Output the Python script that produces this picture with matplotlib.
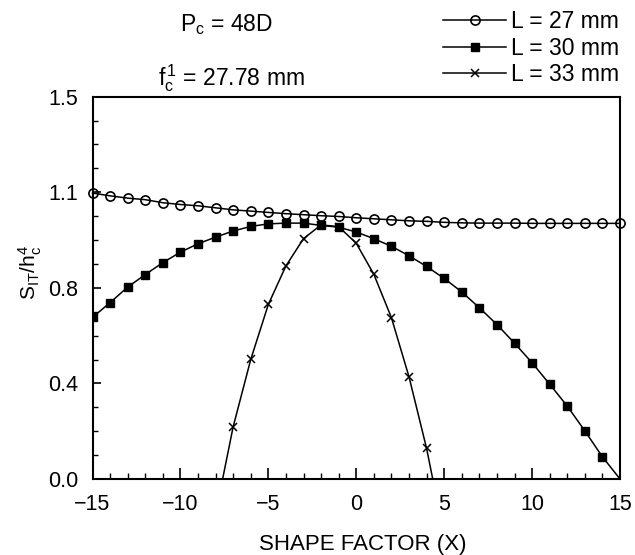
import matplotlib
matplotlib.use('Agg')
import matplotlib.pyplot as plt
from matplotlib.ticker import FixedLocator, MultipleLocator

plt.rcParams['font.family'] = ['Liberation Sans', 'DejaVu Sans']
plt.rcParams['mathtext.fontset'] = 'custom'
plt.rcParams['mathtext.rm'] = 'Liberation Sans'
plt.rcParams['mathtext.it'] = 'Liberation Sans'
plt.rcParams['font.size'] = 16

# ---- data ----
series_labels = ['L = 27 mm', 'L = 30 mm', 'L = 33 mm']

x27 = list(range(-15, 16))
y27 = [1.122, 1.111, 1.102, 1.096, 1.084, 1.077, 1.072, 1.064, 1.056, 1.051,
       1.046, 1.041, 1.037, 1.033, 1.030, 1.025, 1.021, 1.017, 1.013, 1.011,
       1.007, 1.005, 1.004, 1.004, 1.004, 1.003, 1.003, 1.003, 1.003, 1.003, 1.003]

x30 = list(range(-15, 16))
y30 = [0.634, 0.692, 0.753, 0.802, 0.849, 0.890, 0.923, 0.949, 0.973, 0.991,
       1.001, 1.004, 1.004, 0.995, 0.988, 0.969, 0.943, 0.913, 0.876, 0.834,
       0.787, 0.734, 0.672, 0.606, 0.533, 0.456, 0.372, 0.286, 0.189, 0.087, 0.0]

x33 = [-7.6, -7, -6, -5, -4, -3, -2, -1, 0, 1, 2, 3, 4, 4.35]
y33 = [0.0, 0.205, 0.469, 0.685, 0.836, 0.943, 0.997, 0.990, 0.925, 0.803,
       0.633, 0.401, 0.120, 0.0]

xticks = [-15, -10, -5, 0, 5, 10, 15]
yticks = [0.0, 0.375, 0.75, 1.125, 1.5]
ytick_labels = ['0.0', '0.4', '0.8', '1.1', '1.5']

title1 = r'$\mathregular{P_c}$ = 48D'
title2 = r'$\mathregular{f_c^{\,1}}$ = 27.78 mm'
xlabel = 'SHAPE FACTOR (X)'
ylabel = r'$\mathregular{S_{IT}/h_c^4}$'

# ---- figure ----
W, H = 635, 555
fig = plt.figure(figsize=(W / 100, H / 100), dpi=100)
L, R, T, B = 92.5, 620, 96.7, 479
ax = fig.add_axes([L / W, 1 - B / H, (R - L) / W, (B - T) / H])

l1, = ax.plot(x27, y27, color='black', lw=1.1, marker='o', ms=6.6,
              mfc='none', mec='black', mew=1.2, label=series_labels[0], clip_on=False)
l2, = ax.plot(x30, y30, color='black', lw=1.1, marker='s', ms=5.6,
              mfc='black', mec='black', label=series_labels[1],
              markevery=slice(0, len(x30) - 1))
l3, = ax.plot(x33, y33, color='black', lw=1.1, marker='x', ms=5.5,
              mew=1.1, label=series_labels[2],
              markevery=slice(1, len(x33) - 1))

ax.set_xlim(-15, 15)
ax.set_ylim(0, 1.5)
ax.xaxis.set_major_locator(FixedLocator(xticks))
ax.xaxis.set_minor_locator(MultipleLocator(1))
ax.yaxis.set_major_locator(FixedLocator(yticks))
ax.yaxis.set_minor_locator(MultipleLocator(0.09375))
ax.set_yticklabels(ytick_labels)

ax.tick_params(axis='both', which='major', labelsize=15.5)
ax.tick_params(axis='x', which='major', direction='in', length=8, width=1.2, pad=11)
ax.tick_params(axis='x', which='minor', direction='in', length=4, width=1.0)
ax.tick_params(axis='y', which='major', direction='in', length=5.5, width=1.2, pad=10)
ax.tick_params(axis='y', which='minor', direction='in', length=3.5, width=1.0)
for s in ax.spines.values():
    s.set_linewidth(1.5)

ax.set_xlabel(xlabel, fontsize=16)
ax.xaxis.set_label_coords((362.5 - L) / (R - L), (B - 534) / (B - T))
ax.set_ylabel(ylabel, fontsize=15)
ax.yaxis.set_label_coords((30 - L) / (R - L), (B - 272) / (B - T))
ax.yaxis.label.set_va('center')

fig.text(180 / W, 1 - 25 / H, title1, ha='left', va='center', fontsize=16.5)
fig.text(158 / W, 1 - 78 / H, title2, ha='left', va='center', fontsize=16.5)

fig.legend(handles=[l1, l2, l3], labels=series_labels, loc='upper left',
           bbox_to_anchor=(443 / W, 1 - 10 / H), frameon=False, fontsize=16.5,
           handlelength=2.75, handletextpad=0.2, labelspacing=0.16,
           borderpad=0, borderaxespad=0, numpoints=1)

fig.savefig('out.png', dpi=100)
